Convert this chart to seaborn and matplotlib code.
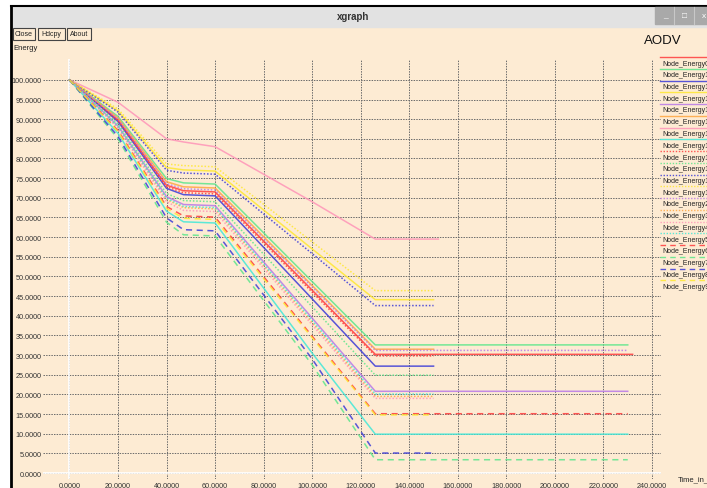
import matplotlib
matplotlib.use("Agg")
import matplotlib.pyplot as plt
from matplotlib.lines import Line2D
from matplotlib.patches import Rectangle
import numpy as np
import pandas as pd
import seaborn as sns

# node names in xgraph legend order
node_names = ["Node_Energy0", "Node_Energy1"] + ["Node_Energy%d" % i for i in range(10, 20)] + \
	["Node_Energy%d" % i for i in range(2, 10)]

# energy at the knot times (s), start is 100 for every node
knot_t = [0, 20, 40, 47, 60, 100, 126]
e20 = [89.8, 90.7, 89.4, 92.1, 88.3, 90.3, 94.3, 86.4, 89.6, 88.8,
	91.8, 92.6, 90.1, 88.0, 87.7, 88.1, 87.1, 85.0, 85.6, 86.8]
e40 = [73.2, 74.9, 72.4, 77.7, 70.3, 74.1, 85.0, 66.6, 72.8, 71.1,
	77.0, 78.6, 73.6, 69.6, 69.0, 69.9, 67.8, 63.8, 64.9, 67.3]
e47 = [71.8, 73.8, 70.8, 77.1, 68.3, 72.8, 84.2, 63.9, 71.3, 69.3,
	76.3, 78.2, 72.3, 67.5, 66.8, 67.8, 65.4, 60.6, 61.9, 64.8]
e60 = [71.5, 73.5, 70.5, 76.8, 68.0, 72.5, 83.0, 63.6, 71.0, 69.0,
	76.0, 77.9, 72.0, 67.2, 66.5, 67.5, 65.1, 60.3, 61.6, 64.5]
e100 = [46.5, 48.7, 44.3, 57.0, 39.4, 47.7, 69.0, 30.5, 46.0, 42.3,
	55.8, 58.8, 47.3, 38.3, 37.7, 38.8, 34.8, 27.5, 29.0, 34.4]
e_final = [30.2, 32.6, 27.2, 44.1, 20.8, 31.5, 59.5, 9.9, 29.8, 24.9,
	42.6, 46.4, 31.2, 19.5, 19.0, 20.1, 15.1, 3.4, 5.1, 14.8]
t_end = [232, 230, 150, 150, 230, 150, 152, 230, 150, 150,
	150, 150, 230, 150, 150, 150, 230, 230, 150, 148]

x_ticks = np.arange(0, 241, 20)
y_ticks = np.arange(0, 101, 5)

W, H = 707, 489
BG = "#fdebd3"

rows = []
for i, name in enumerate(node_names):
	vals = [100, e20[i], e40[i], e47[i], e60[i], e100[i], e_final[i], e_final[i]]
	for t, e in zip(knot_t + [t_end[i]], vals):
		rows.append({"node": name, "t": t, "energy": e})
df = pd.DataFrame(rows)

pen_colors = ["#ff3b3b", "#5ce68a", "#3a3ad8", "#ffe830", "#b878e8", "#ffa640", "#ff94b8", "#40e8d8"]
pen_dashes = ["", (1, 1.2), (4, 3)]
palette = {n: pen_colors[i % 8] for i, n in enumerate(node_names)}
dashes = {n: pen_dashes[i // 8] for i, n in enumerate(node_names)}

plt.rcParams["font.family"] = ["Liberation Sans", "DejaVu Sans"]

fig = plt.figure(figsize=(W / 100, H / 100), dpi=100)
fig.patch.set_facecolor(BG)


def fx(px):
	return px / W


def fy(py):
	return 1 - py / H


# window frame
fig.add_artist(Rectangle((0, 0), fx(11), 1, transform=fig.transFigure, color="white", zorder=0))
fig.add_artist(Rectangle((0, fy(6)), 1, 1, transform=fig.transFigure, color="white", zorder=0))
fig.add_artist(Rectangle((fx(11), fy(28)), 1, fy(7) - fy(28), transform=fig.transFigure,
	color="#e2e2e2", zorder=1))
fig.add_artist(Line2D([fx(11), 1], [fy(6.5), fy(6.5)], color="black", lw=1.5))
fig.add_artist(Line2D([fx(11), fx(11)], [0, fy(6.5)], color="black", lw=2))
fig.text(fx(353), fy(17), "xgraph", ha="center", va="center", fontsize=7, fontweight="bold", color="#333333")
fig.add_artist(Rectangle((fx(655), fy(25)), 1, fy(8) - fy(25), transform=fig.transFigure,
	color="#a9a9a9", zorder=2))
for px in [674, 694]:
	fig.add_artist(Line2D([fx(px), fx(px)], [fy(25), fy(8)], color="#c8c8c8", lw=0.8, zorder=3))
for px, s in [(665, "_"), (685, "\u25a1"), (704, "x")]:
	fig.text(fx(px), fy(16), s, ha="center", va="center", fontsize=6, color="white", zorder=4)

# buttons
for x0, x1, s in [(13, 35, "Close"), (38, 65, "Hdcpy"), (67, 91, "About")]:
	fig.add_artist(Rectangle((fx(x0), fy(41)), fx(x1) - fx(x0), fy(29) - fy(41),
		transform=fig.transFigure, facecolor=BG, edgecolor="#444444", lw=0.8, zorder=2))
	fig.text(fx((x0 + x1) / 2), fy(35), s, ha="center", va="center", fontsize=5, color="#222222")

fig.text(fx(13), fy(48), "Energy", ha="left", va="center", fontsize=5.5, color="#222222")
fig.text(fx(663), fy(41), "AODV", ha="center", va="center", fontsize=9.5, color="#111111")
fig.text(fx(678), fy(480), "Time_in_secs", ha="left", va="center", fontsize=5.5, color="#222222")

# plot area
ax = fig.add_axes([fx(43), fy(480), fx(661) - fx(43), fy(60) - fy(480)])
ax.set_facecolor(BG)
for sp in ax.spines.values():
	sp.set_visible(False)

sns.lineplot(data=df, x="t", y="energy", hue="node", style="node",
	hue_order=node_names, style_order=node_names, palette=palette, dashes=dashes,
	estimator=None, sort=False, lw=1.1, alpha=0.85, legend=False, ax=ax, zorder=3)

ax.set_xlim(-10.9, 243.7)
ax.set_ylim(-1.5, 105.3)
ax.set_xticks(x_ticks)
ax.set_yticks(y_ticks)
ax.set_xticklabels(["%.4f" % v for v in x_ticks], fontsize=5.2, color="#333333")
ax.set_yticklabels(["%.4f" % v for v in y_ticks], fontsize=5.2, color="#333333")
ax.tick_params(length=0, pad=1)
ax.tick_params(axis="x", pad=2)
ax.set_xlabel(None)
ax.set_ylabel(None)
ax.grid(True, color="#6a6a6a", linestyle=(0, (1.5, 1.2)), lw=0.7, zorder=1)
ax.set_axisbelow(True)
ax.axhline(0, color="white", lw=1.2, zorder=2)
ax.axvline(0, color="white", lw=1.2, zorder=2)

# xgraph style legend: pen line drawn over each name
for i, name in enumerate(node_names):
	py = 64 + i * 11.75
	fig.add_artist(Line2D([fx(660), 1], [fy(py - 6), fy(py - 6)], color=palette[name],
		lw=1.0, alpha=0.85, linestyle=(0, dashes[name]) if dashes[name] else "-"))
	fig.text(fx(662), fy(py), name, ha="left", va="center", fontsize=5, color="#222222")

plt.savefig("out.png", dpi=100, facecolor=fig.get_facecolor())
plt.close()
